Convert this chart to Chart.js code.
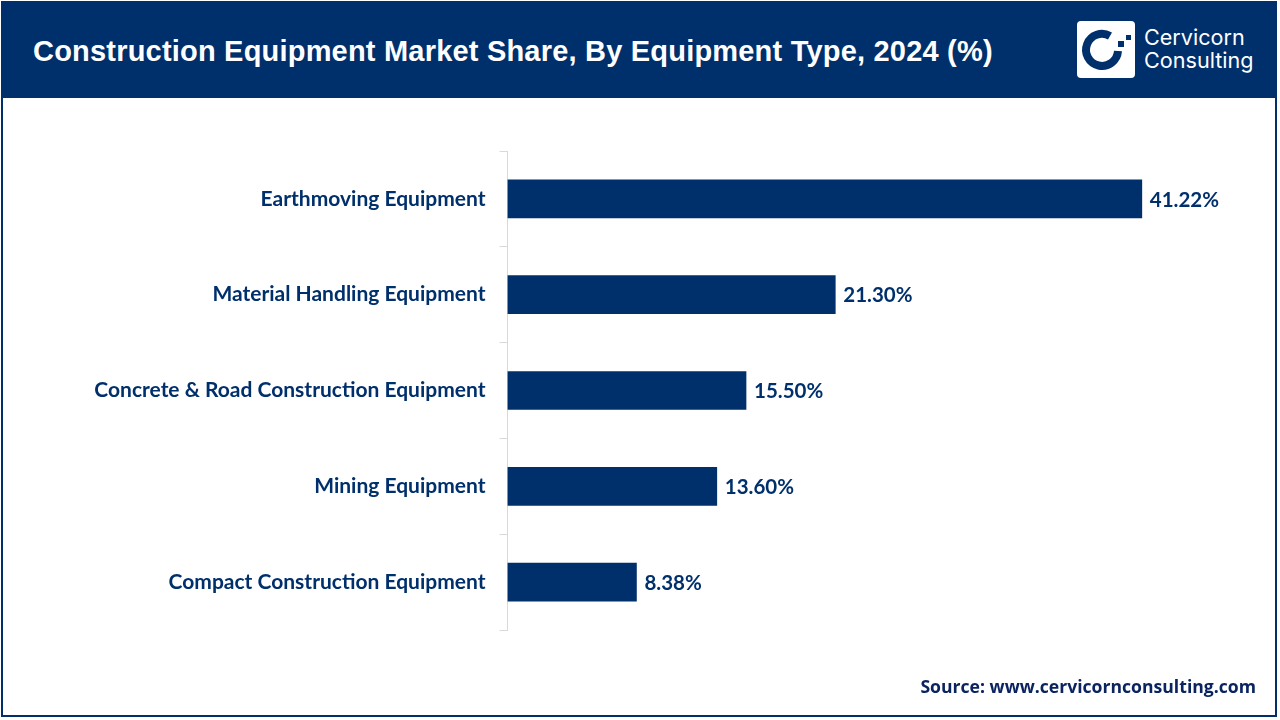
<!DOCTYPE html>
<html>
<head>
<meta charset="utf-8">
<script src="https://cdn.jsdelivr.net/npm/chart.js@4"></script>
<style>
html, body { margin: 0; padding: 0; background: #fff; }
#page { position: relative; width: 1280px; height: 720px; overflow: hidden; background: #fff; }
#frame { position: absolute; left: 1px; top: 1px; width: 1272px; height: 712px; border: 2px solid #00306c; }
#header { position: absolute; left: 1px; top: 1px; width: 1276px; height: 97px; background: #00306c; }
#title { position: absolute; left: 33px; top: 33px; color: #fff; font: bold 29px "Liberation Sans", Arial, sans-serif; line-height: 36px; letter-spacing: 0.2px; white-space: nowrap; }
#logo { position: absolute; left: 1077px; top: 21px; }
#brand { position: absolute; left: 1144px; top: 26px; color: #fff; font: 400 21.6px/23px "Inter", sans-serif; }
#source { position: absolute; right: 24px; top: 674px; color: #0b2460; font: bold 17.6px/24px "Open Sans", sans-serif; white-space: nowrap; }
#stage { position: absolute; left: 0; top: 0; }
</style>
</head>
<body>
<div id="page">
  <canvas id="stage" width="1280" height="720"></canvas>
  <div id="frame"></div>
  <div id="header"></div>
  <div id="title">Construction Equipment Market Share, By Equipment Type, 2024 (%)</div>
  <svg id="logo" width="58" height="57" viewBox="0 0 58 57">
    <rect width="58" height="57" rx="4" fill="#fff"/>
    <path d="M33 15 A16 16 0 1 0 41 30" fill="none" stroke="#00306c" stroke-width="8"/>
    <rect x="41" y="20" width="6" height="6" fill="#00306c"/>
    <rect x="49" y="14" width="5" height="5" fill="#00306c"/>
  </svg>
  <div id="brand">Cervicorn<br>Consulting</div>
  <div id="source">Source: www.cervicornconsulting.com</div>
</div>
<script>
var categories = ['Earthmoving Equipment', 'Material Handling Equipment', 'Concrete & Road Construction Equipment', 'Mining Equipment', 'Compact Construction Equipment'];
var shares = [41.22, 21.30, 15.50, 13.60, 8.38];

var navy = '#00306c';

// 値ラベルを棒の右に描く
var valueLabels = {
    id: 'valueLabels',
    afterDatasetsDraw: function(chart) {
        var ctx = chart.ctx;
        ctx.save();
        ctx.fillStyle = navy;
        ctx.font = 'bold 20.5px Lato';
        ctx.textBaseline = 'middle';
        chart.getDatasetMeta(0).data.forEach(function(bar, i) {
            ctx.fillText(shares[i].toFixed(2) + '%', bar.x + 8, bar.y + 1);
        });
        ctx.restore();
    }
};

var myChart = new Chart(document.getElementById('stage').getContext('2d'), {
    type: 'bar',
    data: {
        labels: categories,
        datasets: [{
            data: shares,
            backgroundColor: navy,
            barThickness: 38
        }]
    },
    options: {
        indexAxis: 'y',
        responsive: false,
        animation: false,
        layout: { padding: { top: 151, bottom: 90, right: 80 } },
        plugins: { legend: { display: false }, tooltip: { enabled: false } },
        scales: {
            x: { display: false, min: 0, max: 45 },
            y: {
                afterFit: function(scale) { scale.width = 507.5; }, // 軸の位置を固定
                border: { color: '#d9d9d9' },
                grid: { drawOnChartArea: false, offset: true, color: '#d9d9d9', tickLength: 8 },
                ticks: { color: navy, padding: 14, font: { family: 'Lato', weight: 'bold', size: 21 } }
            }
        }
    },
    plugins: [valueLabels]
});
</script>
</body>
</html>
